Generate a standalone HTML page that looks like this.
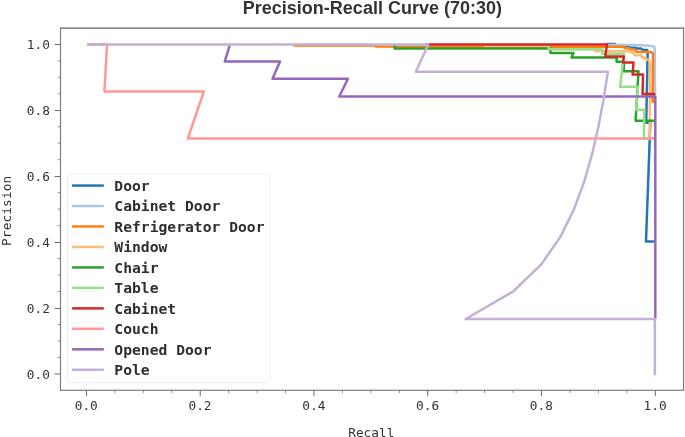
<!DOCTYPE html>
<html lang="en">
<head>
<meta charset="utf-8">
<title>Precision-Recall Curve (70:30)</title>
<style>
html,body{margin:0;padding:0;background:#ffffff;}
body{width:685px;height:437px;overflow:hidden;}
svg{display:block;}
.mono{font-family:"DejaVu Sans Mono", "Liberation Mono", monospace;}
.sans{font-family:"Liberation Sans", sans-serif;}
</style>
</head>
<body>
<svg width="685" height="437" viewBox="0 0 685 437">
<rect x="0" y="0" width="685" height="437" fill="#ffffff"/>
<text class="sans" x="372.4" y="13.5" text-anchor="middle" font-size="18" font-weight="bold" fill="#333333">Precision-Recall Curve (70:30)</text>
<defs><clipPath id="ax"><rect x="60.50" y="28.10" width="623.05" height="362.20"/></clipPath></defs>
<g clip-path="url(#ax)" fill="none" stroke-width="2.50" stroke-linejoin="round" stroke-linecap="butt">
<polyline stroke="#1f77b4" points="605.0,44.3 607.5,43.9 615.0,43.9 616.0,45.5 624.0,45.8 625.0,46.6 628.0,46.6 629.5,47.6 636.0,47.8 637.0,48.4 641.4,48.6 642.5,49.8 647.0,50.0 647.7,51.5 646.2,122.8 650.3,122.8 646.0,241.6 655.3,241.6"/>
<polyline stroke="#aec7e8" points="605.0,44.4 608.0,44.8 637.4,45.1 649.0,45.7 653.2,46.2 654.5,47.5 654.8,50.0 655.0,100.0"/>
<polyline stroke="#ff7f0e" points="293.4,45.6 375.8,45.6 375.8,46.6 623.2,46.8 625.0,48.3 629.0,48.3 631.0,49.3 635.0,49.5 636.5,51.7 651.0,52.0 653.0,53.5 652.7,101.8 655.3,101.8"/>
<polyline stroke="#ffbb78" points="484.2,46.3 548.0,46.3 548.0,49.3 595.3,49.3 595.3,51.2 629.5,51.2 630.5,52.6 633.7,52.6 634.5,55.3 641.4,55.3 642.0,57.7 645.6,57.7 646.2,59.8 648.4,59.8 649.9,62.0 649.8,138.5 655.3,138.5"/>
<polyline stroke="#2ca02c" points="394.6,45.0 394.6,48.6 550.5,48.6 550.5,53.1 573.5,53.1 571.5,57.6 616.8,57.6 616.5,61.8 624.0,61.8 623.6,71.3 638.5,71.3 635.6,120.8 655.3,120.8"/>
<polyline stroke="#98df8a" points="548.6,45.5 548.6,49.2 602.3,49.2 602.3,53.7 623.9,53.7 620.1,86.8 637.9,86.8 636.1,109.8 644.3,109.8 643.8,138.5 655.3,138.5"/>
<polyline stroke="#d62728" points="426.0,44.4 607.0,44.4 605.3,56.6 623.9,56.6 623.0,62.6 633.5,62.6 632.6,74.6 643.0,74.6 642.6,94.0 655.3,94.0"/>
<polyline stroke="#ff9896" points="87.0,44.4 107.1,44.4 104.4,91.4 203.9,91.4 187.8,138.5 655.3,138.5"/>
<polyline stroke="#9467bd" points="229.7,45.4 224.8,61.4 280.0,61.4 272.5,78.8 347.9,78.8 339.3,96.5 655.3,96.5 655.3,318.9"/>
<polyline stroke="#c5b0d5" points="89.0,44.4 428.3,44.4 415.8,71.8 607.9,71.8 603.6,99.3 598.4,126.7 592.1,154.2 584.2,181.7 574.0,209.1 560.5,236.6 541.5,264.1 513.1,291.5 465.7,319.0 654.9,319.0 654.9,375.3"/>
</g>
<path d="M86.45 390.30v5.9M60.50 374.00h-5.9M200.22 390.30v5.9M60.50 308.50h-5.9M313.99 390.30v5.9M60.50 242.50h-5.9M427.76 390.30v5.9M60.50 176.50h-5.9M541.53 390.30v5.9M60.50 110.55h-5.9M655.30 390.30v5.9M60.50 44.50h-5.9" stroke="#6a6a6a" stroke-width="1.0" fill="none"/>
<path d="M114.89 390.30v2.8M60.50 357.45h-2.8M143.34 390.30v2.8M60.50 340.97h-2.8M171.78 390.30v2.8M60.50 324.49h-2.8M228.66 390.30v2.8M60.50 291.53h-2.8M257.11 390.30v2.8M60.50 275.05h-2.8M285.55 390.30v2.8M60.50 258.57h-2.8M342.43 390.30v2.8M60.50 225.61h-2.8M370.88 390.30v2.8M60.50 209.13h-2.8M399.32 390.30v2.8M60.50 192.65h-2.8M456.20 390.30v2.8M60.50 159.69h-2.8M484.64 390.30v2.8M60.50 143.21h-2.8M513.09 390.30v2.8M60.50 126.73h-2.8M569.97 390.30v2.8M60.50 93.77h-2.8M598.42 390.30v2.8M60.50 77.29h-2.8M626.86 390.30v2.8M60.50 60.81h-2.8" stroke="#777777" stroke-width="0.8" fill="none"/>
<path d="M59.95 28.10H684.10M59.95 390.30H684.10" stroke="#646464" stroke-width="1.1" fill="none"/>
<path d="M60.50 28.10V390.30M683.55 28.10V390.30" stroke="#7a7a7a" stroke-width="1.15" fill="none"/>
<g class="mono" font-size="12.8" fill="#333333">
<text x="86.25" y="410.2" text-anchor="middle">0.0</text>
<text x="200.02" y="410.2" text-anchor="middle">0.2</text>
<text x="313.79" y="410.2" text-anchor="middle">0.4</text>
<text x="427.56" y="410.2" text-anchor="middle">0.6</text>
<text x="541.33" y="410.2" text-anchor="middle">0.8</text>
<text x="655.10" y="410.2" text-anchor="middle">1.0</text>
<text x="49.9" y="378.60" text-anchor="end">0.0</text>
<text x="49.9" y="313.10" text-anchor="end">0.2</text>
<text x="49.9" y="247.10" text-anchor="end">0.4</text>
<text x="49.9" y="181.10" text-anchor="end">0.6</text>
<text x="49.9" y="115.15" text-anchor="end">0.8</text>
<text x="49.9" y="49.10" text-anchor="end">1.0</text>
<text x="371.3" y="436.8" text-anchor="middle">Recall</text>
<text transform="translate(10.6 210.8) rotate(-90)" text-anchor="middle" letter-spacing="0.12">Precision</text>
</g>
<rect x="67.4" y="174.1" width="202.9" height="208.7" rx="3" ry="3" fill="#ffffff" fill-opacity="0.9" stroke="#eeeeee" stroke-width="1"/>
<g class="mono" font-size="14.68" font-weight="bold" fill="#2e2e2e">
<line x1="72.1" x2="103.8" y1="185.55" y2="185.55" stroke="#1f77b4" stroke-width="2.50"/>
<text x="114.3" y="191.00">Door</text>
<line x1="72.1" x2="103.8" y1="206.02" y2="206.02" stroke="#aec7e8" stroke-width="2.50"/>
<text x="114.3" y="211.47">Cabinet Door</text>
<line x1="72.1" x2="103.8" y1="226.49" y2="226.49" stroke="#ff7f0e" stroke-width="2.50"/>
<text x="114.3" y="231.94">Refrigerator Door</text>
<line x1="72.1" x2="103.8" y1="246.96" y2="246.96" stroke="#ffbb78" stroke-width="2.50"/>
<text x="114.3" y="252.41">Window</text>
<line x1="72.1" x2="103.8" y1="267.43" y2="267.43" stroke="#2ca02c" stroke-width="2.50"/>
<text x="114.3" y="272.88">Chair</text>
<line x1="72.1" x2="103.8" y1="287.90" y2="287.90" stroke="#98df8a" stroke-width="2.50"/>
<text x="114.3" y="293.35">Table</text>
<line x1="72.1" x2="103.8" y1="308.37" y2="308.37" stroke="#d62728" stroke-width="2.50"/>
<text x="114.3" y="313.82">Cabinet</text>
<line x1="72.1" x2="103.8" y1="328.84" y2="328.84" stroke="#ff9896" stroke-width="2.50"/>
<text x="114.3" y="334.29">Couch</text>
<line x1="72.1" x2="103.8" y1="349.31" y2="349.31" stroke="#9467bd" stroke-width="2.50"/>
<text x="114.3" y="354.76">Opened Door</text>
<line x1="72.1" x2="103.8" y1="369.78" y2="369.78" stroke="#c5b0d5" stroke-width="2.50"/>
<text x="114.3" y="375.23">Pole</text>
</g>
</svg>
</body>
</html>
